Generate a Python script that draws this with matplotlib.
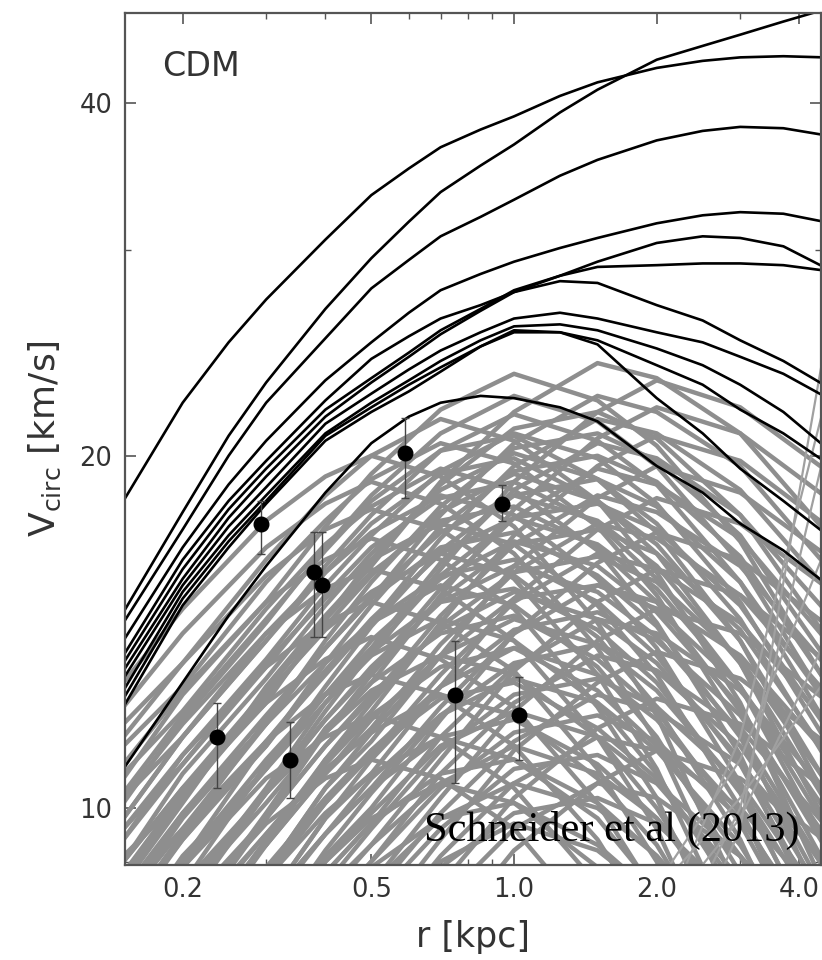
import matplotlib.pyplot as plt
from matplotlib.ticker import NullFormatter
import numpy as np

plt.rcParams['mathtext.fontset'] = 'dejavusans'

black_radii = [0.15, 0.2, 0.25, 0.3, 0.4, 0.5, 0.6, 0.7, 0.85, 1.0,
               1.25, 1.5, 2.0, 2.5, 3.0, 3.7, 4.5]
black_curves = [
    [18.3, 22.2, 25.0, 27.2, 30.6, 33.4, 35.2, 36.7, 38.0, 39.0, 40.6, 41.7, 42.9, 43.5, 43.8, 43.9, 43.8],
    [14.7, 17.9, 20.8, 23.1, 26.7, 29.5, 31.7, 33.6, 35.4, 36.9, 39.3, 41.1, 43.6, 44.8, 45.8, 47.0, 48.1],
    [14.4, 17.3, 20.0, 22.2, 25.2, 27.8, 29.4, 30.8, 32.0, 33.1, 34.7, 35.8, 37.2, 37.9, 38.2, 38.1, 37.6],
    [13.9, 16.7, 18.9, 20.6, 23.2, 25.0, 26.5, 27.7, 28.6, 29.3, 30.1, 30.7, 31.6, 32.1, 32.3, 32.2, 31.7],
    [13.5, 16.3, 18.3, 19.8, 22.3, 24.2, 25.3, 26.2, 26.9, 27.6, 28.5, 29.3, 30.4, 30.8, 30.7, 30.2, 29.0],
    [13.3, 16.0, 18.0, 19.5, 21.9, 23.3, 24.5, 25.6, 26.7, 27.7, 28.5, 29.0, 29.1, 29.2, 29.2, 29.1, 28.8],
    [13.1, 15.7, 17.7, 19.2, 21.6, 23.1, 24.3, 25.4, 26.6, 27.6, 28.2, 28.1, 26.9, 26.1, 25.1, 24.1, 23.0],
    [12.9, 15.5, 17.4, 18.8, 21.3, 22.6, 23.7, 24.6, 25.5, 26.2, 26.5, 26.2, 25.5, 25.0, 24.3, 23.5, 22.5],
    [12.6, 15.3, 17.1, 18.5, 20.9, 22.2, 23.2, 24.1, 25.1, 25.8, 25.9, 25.6, 24.7, 23.9, 23.0, 21.8, 20.4],
    [12.4, 15.1, 16.9, 18.3, 20.8, 22.0, 23.0, 23.8, 24.8, 25.5, 25.5, 25.1, 23.9, 23.0, 21.9, 20.9, 19.8],
    [12.2, 14.9, 16.7, 18.2, 20.6, 21.8, 22.7, 23.6, 24.8, 25.6, 25.5, 24.9, 22.4, 20.9, 19.5, 18.3, 17.2],
    [10.8, 12.8, 14.6, 16.1, 18.6, 20.5, 21.6, 22.2, 22.5, 22.4, 22.0, 21.4, 19.6, 18.6, 17.5, 16.6, 15.6],
]

gray_radii = [0.15, 0.2, 0.3, 0.4, 0.5, 0.7, 1.0, 1.5, 2.0, 3.0, 4.5]
gray_curves = [
    [12.8, 14.8, 17.6, 19.2, 20.0, 19.2, 17.4, 14.4, 12.0, 8.4, 5.4],
    [12.2, 14.1, 16.7, 18.2, 19.0, 18.2, 16.5, 13.7, 11.4, 8.0, 5.1],
    [11.5, 13.3, 15.8, 17.3, 18.0, 17.3, 15.7, 13.0, 10.8, 7.6, 4.9],
    [10.9, 12.6, 15.0, 16.3, 17.0, 16.3, 14.8, 12.2, 10.2, 7.1, 4.6],
    [10.2, 11.8, 14.1, 15.4, 16.0, 15.4, 13.9, 11.5, 9.6, 6.7, 4.3],
    [9.6, 11.1, 13.2, 14.4, 15.0, 14.4, 13.1, 10.8, 9.0, 6.3, 4.1],
    [9.0, 10.4, 12.3, 13.4, 14.0, 13.4, 12.2, 10.1, 8.4, 5.9, 3.8],
    [8.3, 9.6, 11.4, 12.5, 13.0, 12.5, 11.3, 9.4, 7.8, 5.5, 3.5],
    [7.7, 8.9, 10.6, 11.5, 12.0, 11.5, 10.4, 8.6, 7.2, 5.0, 3.2],
    [7.0, 8.1, 9.7, 10.6, 11.0, 10.6, 9.6, 7.9, 6.6, 4.6, 3.0],
    [11.8, 13.3, 16.3, 18.5, 20.0, 21.5, 20.6, 18.3, 15.9, 12.3, 8.6],
    [11.3, 12.7, 15.6, 17.6, 19.1, 20.5, 19.7, 17.4, 15.2, 11.7, 8.2],
    [10.7, 12.1, 14.8, 16.8, 18.1, 19.5, 18.7, 16.6, 14.4, 11.1, 7.8],
    [10.2, 11.5, 14.1, 15.9, 17.2, 18.5, 17.8, 15.7, 13.7, 10.5, 7.4],
    [9.6, 10.9, 13.3, 15.1, 16.3, 17.5, 16.8, 14.9, 13.0, 10.0, 7.0],
    [9.1, 10.2, 12.5, 14.2, 15.3, 16.5, 15.8, 14.0, 12.2, 9.4, 6.6],
    [8.5, 9.6, 11.8, 13.3, 14.4, 15.5, 14.9, 13.2, 11.5, 8.8, 6.2],
    [8.0, 9.0, 11.0, 12.5, 13.5, 14.5, 13.9, 12.3, 10.7, 8.3, 5.8],
    [7.4, 8.4, 10.3, 11.6, 12.6, 13.5, 13.0, 11.5, 10.0, 7.7, 5.4],
    [6.9, 7.8, 9.5, 10.8, 11.6, 12.5, 12.0, 10.6, 9.3, 7.1, 5.0],
    [6.3, 7.1, 8.7, 9.9, 10.7, 11.5, 11.0, 9.8, 8.5, 6.6, 4.6],
    [5.8, 6.5, 8.0, 9.0, 9.8, 10.5, 10.1, 8.9, 7.8, 6.0, 4.2],
    [10.3, 12.0, 14.5, 16.6, 18.3, 20.2, 20.8, 19.1, 17.2, 13.9, 10.3],
    [9.8, 11.5, 13.9, 15.9, 17.5, 19.3, 19.9, 18.3, 16.5, 13.3, 9.8],
    [9.4, 10.9, 13.2, 15.2, 16.7, 18.4, 19.0, 17.5, 15.7, 12.7, 9.4],
    [9.0, 10.4, 12.6, 14.5, 15.9, 17.6, 18.1, 16.7, 15.0, 12.1, 9.0],
    [8.5, 9.9, 12.0, 13.7, 15.1, 16.7, 17.2, 15.8, 14.3, 11.5, 8.5],
    [8.1, 9.4, 11.4, 13.0, 14.4, 15.8, 16.3, 15.0, 13.5, 10.9, 8.1],
    [7.6, 8.9, 10.8, 12.3, 13.6, 15.0, 15.4, 14.2, 12.8, 10.3, 7.6],
    [7.2, 8.4, 10.1, 11.6, 12.8, 14.1, 14.6, 13.4, 12.1, 9.7, 7.2],
    [6.8, 7.9, 9.5, 10.9, 12.0, 13.2, 13.7, 12.6, 11.3, 9.1, 6.8],
    [6.3, 7.4, 8.9, 10.2, 11.2, 12.4, 12.8, 11.7, 10.6, 8.5, 6.3],
    [5.9, 6.8, 8.3, 9.5, 10.4, 11.5, 11.9, 10.9, 9.8, 7.9, 5.9],
    [5.4, 6.3, 7.7, 8.8, 9.7, 10.7, 11.0, 10.1, 9.1, 7.3, 5.4],
    [5.0, 5.8, 7.0, 8.1, 8.9, 9.8, 10.1, 9.3, 8.4, 6.7, 5.0],
    [10.1, 11.9, 14.4, 16.7, 18.5, 20.9, 22.5, 21.4, 19.6, 16.2, 12.4],
    [9.8, 11.5, 13.9, 16.1, 17.8, 20.2, 21.7, 20.6, 18.9, 15.6, 11.9],
    [9.4, 11.1, 13.4, 15.5, 17.1, 19.4, 20.9, 19.9, 18.2, 15.0, 11.5],
    [9.0, 10.7, 12.9, 14.9, 16.5, 18.7, 20.1, 19.1, 17.5, 14.5, 11.1],
    [8.7, 10.2, 12.4, 14.3, 15.8, 17.9, 19.3, 18.3, 16.8, 13.9, 10.6],
    [8.3, 9.8, 11.8, 13.7, 15.2, 17.2, 18.5, 17.6, 16.1, 13.3, 10.2],
    [8.0, 9.4, 11.3, 13.1, 14.5, 16.5, 17.7, 16.8, 15.4, 12.7, 9.7],
    [7.6, 9.0, 10.8, 12.5, 13.9, 15.7, 16.9, 16.1, 14.7, 12.2, 9.3],
    [7.2, 8.5, 10.3, 11.9, 13.2, 15.0, 16.1, 15.3, 14.0, 11.6, 8.9],
    [6.9, 8.1, 9.8, 11.3, 12.5, 14.2, 15.3, 14.5, 13.3, 11.0, 8.4],
    [6.5, 7.7, 9.3, 10.7, 11.9, 13.5, 14.5, 13.8, 12.6, 10.4, 8.0],
    [6.2, 7.3, 8.8, 10.1, 11.2, 12.7, 13.7, 13.0, 11.9, 9.9, 7.5],
    [5.8, 6.8, 8.3, 9.5, 10.6, 12.0, 12.9, 12.3, 11.2, 9.3, 7.1],
    [5.4, 6.4, 7.7, 9.0, 9.9, 11.3, 12.1, 11.5, 10.5, 8.7, 6.7],
    [5.1, 6.0, 7.2, 8.4, 9.3, 10.5, 11.3, 10.7, 9.8, 8.1, 6.2],
    [4.7, 5.6, 6.7, 7.8, 8.6, 9.8, 10.5, 10.0, 9.1, 7.6, 5.8],
    [4.4, 5.1, 6.2, 7.2, 8.0, 9.0, 9.7, 9.2, 8.4, 7.0, 5.3],
    [8.8, 10.3, 12.3, 14.5, 16.3, 18.9, 21.1, 21.8, 20.7, 17.8, 14.1],
    [8.4, 9.9, 11.8, 13.9, 15.6, 18.1, 20.3, 20.9, 19.8, 17.1, 13.5],
    [8.1, 9.5, 11.3, 13.3, 14.9, 17.4, 19.4, 20.0, 19.0, 16.4, 12.9],
    [7.7, 9.1, 10.8, 12.7, 14.3, 16.6, 18.5, 19.1, 18.1, 15.6, 12.4],
    [7.4, 8.6, 10.3, 12.1, 13.6, 15.8, 17.7, 18.2, 17.3, 14.9, 11.8],
    [7.0, 8.2, 9.8, 11.6, 13.0, 15.1, 16.8, 17.3, 16.5, 14.2, 11.2],
    [6.6, 7.8, 9.3, 11.0, 12.3, 14.3, 15.9, 16.4, 15.6, 13.4, 10.6],
    [6.3, 7.4, 8.8, 10.4, 11.6, 13.5, 15.1, 15.5, 14.8, 12.7, 10.0],
    [5.9, 7.0, 8.3, 9.8, 11.0, 12.7, 14.2, 14.7, 13.9, 12.0, 9.5],
    [5.6, 6.5, 7.8, 9.2, 10.3, 12.0, 13.3, 13.8, 13.1, 11.3, 8.9],
    [5.2, 6.1, 7.3, 8.6, 9.6, 11.2, 12.5, 12.9, 12.2, 10.5, 8.3],
    [4.8, 5.7, 6.8, 8.0, 9.0, 10.4, 11.6, 12.0, 11.4, 9.8, 7.7],
    [4.5, 5.3, 6.3, 7.4, 8.3, 9.6, 10.8, 11.1, 10.5, 9.1, 7.2],
    [4.1, 4.8, 5.8, 6.8, 7.6, 8.9, 9.9, 10.2, 9.7, 8.3, 6.6],
    [8.1, 9.5, 11.9, 13.7, 15.1, 17.8, 20.5, 22.5, 21.8, 19.6, 16.2],
    [7.7, 9.0, 11.4, 13.1, 14.4, 17.0, 19.6, 21.5, 20.9, 18.7, 15.5],
    [7.4, 8.6, 10.9, 12.5, 13.7, 16.2, 18.7, 20.5, 19.9, 17.8, 14.8],
    [7.0, 8.2, 10.3, 11.9, 13.1, 15.4, 17.7, 19.5, 18.9, 17.0, 14.0],
    [6.7, 7.8, 9.8, 11.3, 12.4, 14.6, 16.8, 18.5, 17.9, 16.1, 13.3],
    [6.3, 7.4, 9.3, 10.7, 11.7, 13.8, 15.9, 17.5, 17.0, 15.2, 12.6],
    [5.9, 6.9, 8.7, 10.1, 11.1, 13.0, 15.0, 16.5, 16.0, 14.4, 11.9],
    [5.6, 6.5, 8.2, 9.5, 10.4, 12.2, 14.1, 15.5, 15.0, 13.5, 11.2],
    [5.2, 6.1, 7.7, 8.8, 9.7, 11.5, 13.2, 14.5, 14.1, 12.6, 10.4],
    [4.9, 5.7, 7.2, 8.2, 9.0, 10.7, 12.3, 13.5, 13.1, 11.7, 9.7],
    [4.5, 5.3, 6.6, 7.6, 8.4, 9.9, 11.4, 12.5, 12.1, 10.9, 9.0],
    [4.1, 4.8, 6.1, 7.0, 7.7, 9.1, 10.5, 11.5, 11.2, 10.0, 8.3],
    [3.8, 4.4, 5.6, 6.4, 7.0, 8.3, 9.6, 10.5, 10.2, 9.1, 7.6],
    [6.6, 7.9, 9.9, 11.7, 12.8, 15.2, 18.0, 20.7, 22.0, 20.9, 18.5],
    [6.2, 7.5, 9.4, 11.0, 12.1, 14.4, 17.1, 19.6, 20.8, 19.8, 17.5],
    [5.9, 7.1, 8.8, 10.4, 11.4, 13.5, 16.1, 18.4, 19.6, 18.6, 16.5],
    [5.5, 6.6, 8.3, 9.8, 10.7, 12.7, 15.1, 17.3, 18.4, 17.5, 15.5],
    [5.2, 6.2, 7.7, 9.1, 10.0, 11.9, 14.1, 16.2, 17.2, 16.3, 14.4],
    [4.8, 5.8, 7.2, 8.5, 9.3, 11.0, 13.1, 15.0, 16.0, 15.2, 13.4],
    [4.4, 5.3, 6.7, 7.8, 8.6, 10.2, 12.1, 13.9, 14.8, 14.1, 12.4],
    [4.1, 4.9, 6.1, 7.2, 7.9, 9.4, 11.2, 12.8, 13.6, 12.9, 11.4],
    [3.7, 4.5, 5.6, 6.6, 7.2, 8.6, 10.2, 11.7, 12.4, 11.8, 10.4],
    [3.4, 4.0, 5.0, 5.9, 6.5, 7.7, 9.2, 10.5, 11.2, 10.6, 9.4],
    [8.6, 10.1, 12.7, 14.6, 16.1, 19.0, 21.8, 24.0, 23.3, 20.9, 17.3],
    [10.6, 12.5, 15.0, 17.4, 19.3, 21.9, 23.5, 22.3, 20.4, 16.9, 12.9],
    [7.0, 8.4, 10.4, 12.3, 13.5, 16.0, 19.0, 21.8, 23.2, 22.0, 19.5],
]

# gray curves still rising at the outer edge
rise_radii = [1.5, 2.0, 3.0, 4.5]
rising_curves = [
    [7.5, 8.5, 10.2, 12.8],
    [7.0, 8.0, 9.8, 13.8],
    [7.5, 8.6, 11.0, 16.5],
    [6.0, 7.2, 10.0, 20.0],
    [5.5, 6.6, 9.6, 24.5],
    [6.5, 7.8, 11.5, 22.0],
]

# observed dwarf spheroidals
obs_r = [0.236, 0.337, 0.379, 0.394, 0.292, 0.589, 0.943, 0.751, 1.024]
obs_v = [11.5, 11.0, 15.9, 15.5, 17.5, 20.1, 18.2, 12.5, 12.0]
obs_lo = [10.4, 10.2, 14.0, 14.0, 16.5, 18.4, 17.6, 10.5, 11.0]
obs_hi = [12.3, 11.85, 17.2, 17.2, 18.3, 21.55, 18.9, 13.9, 12.95]

fig = plt.figure(figsize=(8.22, 9.6), dpi=100)
ax = fig.add_axes([0.152, 0.099, 0.8467, 0.8875])
ax.set_xscale('log')
ax.set_yscale('log')

for v in gray_curves:
    ax.plot(gray_radii, v, color='#8e8e8e', lw=3.2, solid_joinstyle='round')
for v in rising_curves:
    ax.plot(rise_radii, v, color='#a0a0a0', lw=1.6)
for v in black_curves:
    ax.plot(black_radii, v, color='black', lw=1.9, solid_joinstyle='round')

v = np.array(obs_v)
yerr = [v - np.array(obs_lo), np.array(obs_hi) - v]
ax.errorbar(obs_r, obs_v, yerr=yerr, fmt='o', color='black', ms=10.5,
            ecolor='#444444', elinewidth=1.0, capsize=3, zorder=5)

ax.set_xlim(0.1511, 4.44)
ax.set_ylim(8.94, 47.8)

ax.set_xticks([0.2, 0.5, 1.0, 2.0, 4.0], labels=['0.2', '0.5', '1.0', '2.0', '4.0'])
ax.set_xticks([0.3, 0.4, 0.6, 0.7, 0.8, 0.9, 3.0], minor=True)
ax.set_yticks([10, 20, 40], labels=['10', '20', '40'])
ax.set_yticks([9, 30], minor=True)
ax.xaxis.set_minor_formatter(NullFormatter())
ax.yaxis.set_minor_formatter(NullFormatter())
ax.tick_params(which='both', direction='in', top=True, right=True,
               color='#555555', labelcolor='#333333', labelsize=18.5, pad=9)
ax.tick_params(which='major', length=8, width=1.2)
ax.tick_params(which='minor', length=4, width=1.0)
for s in ax.spines.values():
    s.set_color('#555555')
    s.set_linewidth(1.6)

ax.set_xlabel('r [kpc]', fontsize=25, color='#333333', labelpad=12)
ax.set_ylabel(r'V$_{\rm circ}$ [km/s]', fontsize=26, color='#333333', labelpad=12)

ax.text(0.053, 0.957, 'CDM', transform=ax.transAxes, fontsize=24,
        color='#333333', ha='left', va='top')
ax.text(0.429, 0.028, 'Schneider et al (2013)', transform=ax.transAxes,
        fontsize=30.5, family='Liberation Serif', color='black',
        ha='left', va='baseline', zorder=6)

fig.savefig('out.png', dpi=100)
